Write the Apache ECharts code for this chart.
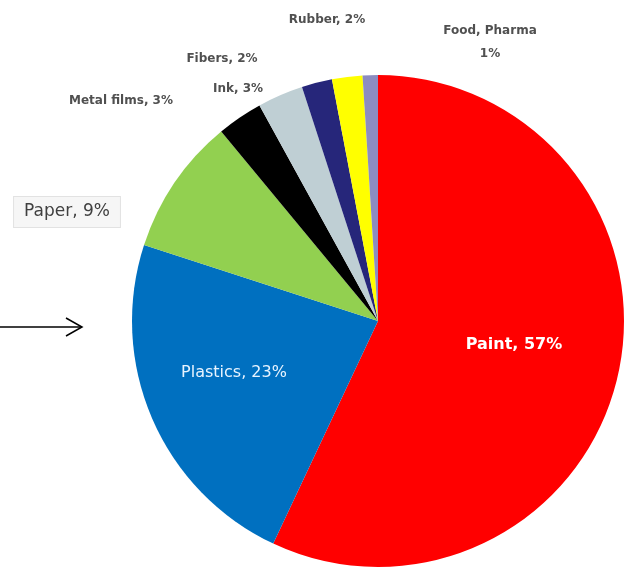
<!DOCTYPE html>
<html>
<head>
<meta charset="utf-8">
<script src="https://cdn.jsdelivr.net/npm/echarts@6/dist/echarts.min.js"></script>
<style>
  html, body { margin: 0; padding: 0; background: #fff; }
  #chart { width: 629px; height: 573px; }
</style>
</head>
<body>
<div id="chart"></div>
<script>
const categories = ['Paint', 'Plastics', 'Paper', 'Metal films', 'Ink', 'Fibers', 'Rubber', 'Food, Pharma'];
const shares = [57, 23, 9, 3, 3, 2, 2, 1];
const colors = ['#FF0000', '#0070C0', '#92D050', '#000000', '#BFCFD4', '#26267A', '#FFFF00', '#8C8CC0'];
// where each label sits (label centre, px)
const labelPos = [
  [514, 345], [234, 373], [67, 212], [121, 101],
  [238, 89], [222, 59], [327, 20], [490, 42]
];

const chart = echarts.init(document.getElementById('chart'), null, { renderer: 'canvas' });

const font = 'DejaVu Sans, Verdana, sans-serif';

const data = categories.map((name, i) => {
  let label = {
    show: true,
    position: 'outside',
    color: '#505050',
    fontSize: 12,
    fontWeight: 'bold',
    fontFamily: font,
    formatter: '{b}, {c}%'
  };
  if (i === 0) {
    label = { show: true, position: 'inside', color: '#fff', fontSize: 16, fontWeight: 'bold', fontFamily: font, formatter: '{b}, {c}%' };
  } else if (i === 1) {
    label = { show: true, position: 'inside', color: '#E8F4FF', fontSize: 16, fontFamily: font, formatter: '{b}, {c}%' };
  } else if (i === 2) {
    label = {
      show: true, position: 'outside', color: '#404040', fontSize: 17,
      fontFamily: font, formatter: '{b}, {c}%',
      backgroundColor: '#F6F6F6', borderColor: '#E2E2E2', borderWidth: 1,
      padding: [7, 10, 6, 10]
    };
  } else if (i === 7) {
    label.formatter = '{b}\n{c}%';
    label.align = 'center';
    label.lineHeight = 23;
  }
  return { name, value: shares[i], itemStyle: { color: colors[i] }, label };
});

const option = {
  backgroundColor: '#fff',
  animation: false,
  series: [
    {
      type: 'pie',
      center: [378, 321],
      radius: [0, 246],
      startAngle: 90,
      clockwise: true,
      avoidLabelOverlap: false,
      labelLine: { show: false },
      data,
      labelLayout: (params) => {
        const p = labelPos[params.dataIndex];
        return { x: p[0], y: p[1], align: 'center', verticalAlign: 'middle' };
      }
    }
  ],
  graphic: [
    {
      type: 'polyline',
      shape: { points: [[0, 327], [82, 327]] },
      style: { stroke: '#000', lineWidth: 1.5 }
    },
    {
      type: 'polyline',
      shape: { points: [[66, 318], [82, 327], [66, 336]] },
      style: { stroke: '#000', lineWidth: 1.5, fill: null }
    }
  ]
};

chart.setOption(option);
</script>
</body>
</html>
